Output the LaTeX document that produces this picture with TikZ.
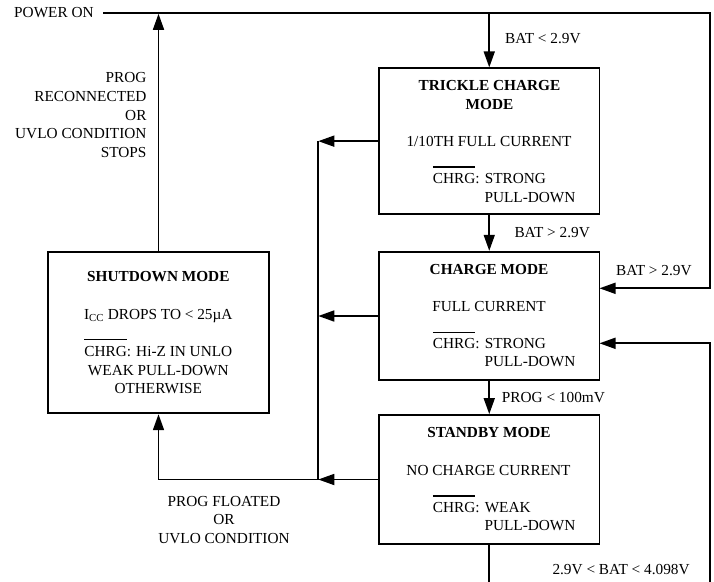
\documentclass[tikz,border=0pt]{standalone}
\usepackage{fontspec}
\setmainfont{Liberation Serif}
\usetikzlibrary{arrows.meta}
\newcommand\ovlbar[1]{\setbox0\hbox{#1}\rlap{\rule[15.6pt]{\wd0}{1.3pt}}\box0}
\tikzset{
  boxnode/.style={draw, line width=1.8pt, inner sep=0pt, rectangle},
  txt/.style={inner sep=0pt, font=\fontsize{15.3}{18.7}\selectfont},
  bold/.style={txt, font=\fontsize{15.3}{18.7}\selectfont\bfseries},
  wire/.style={line width=1.7pt},
  arr/.style={wire, -{Triangle[length=16pt,width=11pt]}}
}
\begin{document}
\begin{tikzpicture}[x=1pt,y=-1pt]
\useasboundingbox (0,0) rectangle (714,581);
% boxes
\node[boxnode, minimum width=220.5pt, minimum height=145.7pt] (trk) at (489.25,141.15) {};
\node[boxnode, minimum width=220.5pt, minimum height=128.6pt] (chg) at (489.25,316) {};
\node[boxnode, minimum width=220.5pt, minimum height=129pt] (stb) at (489.25,479.5) {};
\node[boxnode, minimum width=220.4pt, minimum height=161.6pt] (sdn) at (158.5,332.5) {};
% box texts
\node[bold, anchor=base] (t1) at (489.5,90.7) {TRICKLE CHARGE};
\node[bold, anchor=base] (t2) at (489.5,109.3) {MODE};
\node[txt, anchor=base] (t3) at (489,146.7) {1/10TH FULL CURRENT};
\node[txt, anchor=base west] (t4) at (432.7,183.3) {\ovlbar{CHRG}: STRONG};
\node[txt, anchor=base west] (t5) at (484.3,202) {PULL-DOWN};
\node[bold, anchor=base] (c1) at (489,274) {CHARGE MODE};
\node[txt, anchor=base] (c2) at (489,311) {FULL CURRENT};
\node[txt, anchor=base west] (c3) at (432.7,348.7) {\ovlbar{CHRG}: STRONG};
\node[txt, anchor=base west] (c4) at (484.3,366.7) {PULL-DOWN};
\node[bold, anchor=base] (s1) at (489,437.7) {STANDBY MODE};
\node[txt, anchor=base] (s2) at (488.5,475) {NO CHARGE CURRENT};
\node[txt, anchor=base west] (s3) at (432.7,512.3) {\ovlbar{CHRG}: WEAK};
\node[txt, anchor=base west] (s4) at (484.3,530) {PULL-DOWN};
\node[bold, anchor=base] (d1) at (158.3,281) {SHUTDOWN MODE};
\node[txt, anchor=base] (d2) at (158.3,319.3) {I\textsubscript{CC} DROPS TO < 25µA};
\node[txt, anchor=base] (d3) at (158.3,356) {\ovlbar{CHRG}: Hi-Z IN UNLO};
\node[txt, anchor=base] (d4) at (158.3,375) {WEAK PULL-DOWN};
\node[txt, anchor=base] (d5) at (158.3,393.3) {OTHERWISE};
% labels
\node[txt, anchor=base west] (pwr) at (14,17.3) {POWER ON};
\node[txt, anchor=base west] (l1) at (505,43.3) {BAT < 2.9V};
\node[txt, anchor=base west] (l2) at (514.3,237.7) {BAT > 2.9V};
\node[txt, anchor=base west] (l3) at (616,275) {BAT > 2.9V};
\node[txt, anchor=base west] (l4) at (501.7,402.3) {PROG < 100mV};
\node[txt, anchor=base west] (l5) at (552.3,574.3) {2.9V < BAT < 4.098V};
\node[txt, anchor=base east] (r1) at (146.7,82.7) {PROG};
\node[txt, anchor=base east] (r2) at (146.7,101.7) {RECONNECTED};
\node[txt, anchor=base east] (r3) at (146.7,120) {OR};
\node[txt, anchor=base east] (r4) at (146.7,138.3) {UVLO CONDITION};
\node[txt, anchor=base east] (r5) at (146.7,157.3) {STOPS};
\node[txt, anchor=base] (f1) at (224,506) {PROG FLOATED};
\node[txt, anchor=base] (f2) at (224,524.3) {OR};
\node[txt, anchor=base] (f3) at (224,543.3) {UVLO CONDITION};
% coordinates
\coordinate (p0) at (103,12.7);
\coordinate (pt) at (489.25,12.7);
\coordinate (p1) at (710,12.7);
\coordinate (pr) at (710,288.3);
\coordinate (ci1) at (599.5,288.3);
\coordinate (ci2) at (599.5,343.3);
\coordinate (rb) at (710,343.3);
\coordinate (lb) at (489.25,600);
\coordinate (rbb) at (710,600);
\coordinate (sup) at (158.5,13.8);
\coordinate (k1) at (318.3,141.15);
\coordinate (k2) at (318.3,316);
\coordinate (k3) at (318.3,479.5);
\coordinate (k4) at (158.5,479.5);
% connectors
\draw[arr] (p0) -- (p1) -- (pr) -- (ci1);
\draw[arr] (pt) -- (trk.north);
\draw[arr] (trk.south) -- (chg.north);
\draw[arr] (chg.south) -- (stb.north);
\draw[arr] (sdn.north) -- (sup);
\draw[arr] (trk.west) -- (k1);
\draw[arr] (chg.west) -- (k2);
\draw[arr] (stb.west) -- (k3);
\draw[wire] (k1) -- (k3);
\draw[arr] (k3) -- (k4) -- (sdn.south);
\begin{scope}
\clip (0,0) rectangle (714,581);
\draw[arr] (stb.south) -- (lb) -- (rbb) -- (rb) -- (ci2);
\end{scope}
\end{tikzpicture}
\end{document}
